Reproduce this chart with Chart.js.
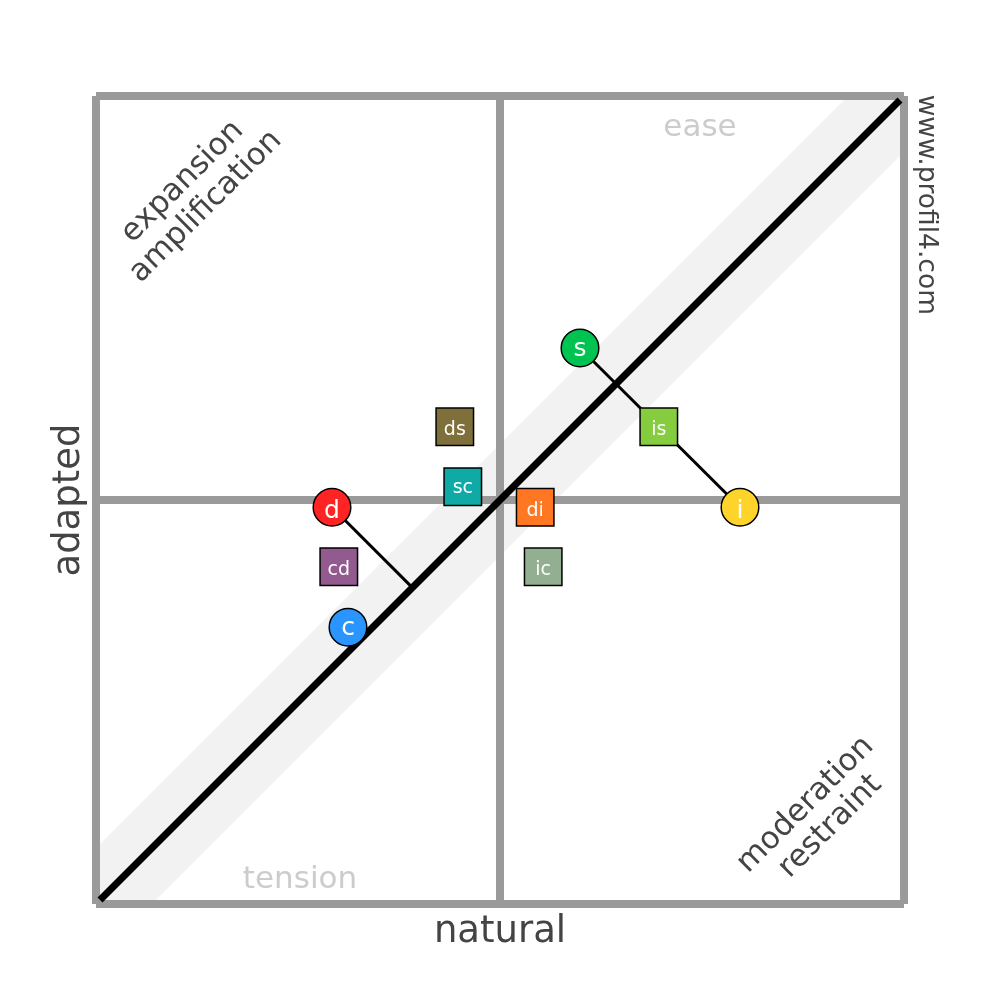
<!DOCTYPE html>
<html>
<head>
<meta charset="utf-8">
<title>profil4</title>
<script src="https://cdn.jsdelivr.net/npm/chart.js@4.4.1/dist/chart.umd.min.js"></script>
<style>
    html, body { margin: 0; padding: 0; background: #ffffff; }
    #wrap { width: 1000px; height: 1000px; }
</style>
</head>
<body>
<div id="wrap"><canvas id="profileChart"></canvas></div>
<script>
// circle markers (main profiles)
const circleLabels = ["d", "i", "s", "c"];
const circleX = [29, 80, 60, 31];
const circleY = [49.1, 49.1, 69, 34.1];
const circleColors = ["#ff2424", "#ffd42a", "#00c352", "#2b95ff"];

// square markers (combined profiles)
const squareLabels = ["ds", "sc", "di", "ic", "cd", "is"];
const squareX = [44.35, 45.35, 54.4, 55.4, 29.85, 69.85];
const squareY = [59.15, 51.65, 49.1, 41.65, 41.65, 59.15];
const squareColors = ["#7f6f3b", "#10aaa6", "#ff7722", "#92b091", "#935a8f", "#86cc3f"];

// connectors: d to the diagonal, s to i
const dLineX = [29, 39.05];
const dLineY = [49.1, 39.05];
const siLineX = [60, 80];
const siLineY = [69, 49.1];

// axis range, frame and middle cross
const axisMin = -0.5;
const axisMax = 100.5;
const midValue = 50;
const bandWidth = 7;

const toPoints = (xs, ys) => xs.map((x, i) => ({ x: x, y: ys[i] }));

const bandPoints = [
    { x: 0, y: 0 }, { x: 0, y: bandWidth }, { x: 100 - bandWidth, y: 100 },
    { x: 100, y: 100 }, { x: 100, y: 100 - bandWidth }, { x: bandWidth, y: 0 }
];

const textItems = [
    { text: "ease", x: 75, y: 96.6, size: 31, color: "#cccccc", angle: 0 },
    { text: "tension", x: 25, y: 3, size: 31, color: "#cccccc", angle: 0 },
    { text: "expansion", x: 10.3, y: 89.8, size: 31, color: "#444444", angle: -45 },
    { text: "amplification", x: 13.2, y: 86.7, size: 31, color: "#444444", angle: -45 },
    { text: "moderation", x: 87.9, y: 12.2, size: 31, color: "#444444", angle: -45 },
    { text: "restraint", x: 91.0, y: 9.5, size: 31, color: "#444444", angle: -45 },
    { text: "www.profil4.com", x: 103.25, y: 86.9, size: 26.5, color: "#444444", angle: 90 },
    { text: "natural", x: 50, y: -3.5, size: 37, color: "#444444", angle: 0 },
    { text: "adapted", x: -4, y: 50, size: 37, color: "#444444", angle: -90 }
];

const fontFamily = "'DejaVu Sans', sans-serif";

function drawCentered(ctx, text, cx, cy, size, color, angle) {
    ctx.save();
    ctx.translate(cx, cy);
    ctx.rotate(angle * Math.PI / 180);
    ctx.font = size + "px " + fontFamily;
    ctx.fillStyle = color;
    ctx.textAlign = "center";
    ctx.textBaseline = "alphabetic";
    const m = ctx.measureText(text);
    const base = (m.actualBoundingBoxAscent - m.actualBoundingBoxDescent) / 2;
    ctx.fillText(text, 0, base);
    ctx.restore();
}

const textPlugin = {
    id: "textPlugin",
    afterDraw(chart) {
        const ctx = chart.ctx;
        const xs = chart.scales.x;
        const ys = chart.scales.y;
        textItems.forEach(t => {
            drawCentered(ctx, t.text, xs.getPixelForValue(t.x), ys.getPixelForValue(t.y),
                t.size, t.color, t.angle);
        });
    },
    afterDatasetsDraw(chart) {
        const ctx = chart.ctx;
        [[0, circleLabels, 25], [1, squareLabels, 19]].forEach(([idx, labels, size]) => {
            chart.getDatasetMeta(idx).data.forEach((pt, j) => {
                drawCentered(ctx, labels[j], pt.x, pt.y + 0.8, size, "#ffffff", 0);
            });
        });
    }
};

const frameScale = {
    type: "linear",
    min: axisMin,
    max: axisMax,
    afterBuildTicks: scale => {
        scale.ticks = [{ value: axisMin }, { value: axisMax }];
    },
    ticks: { display: false },
    grid: { color: "#9a9a9a", lineWidth: 8, drawTicks: false },
    border: { display: false }
};

new Chart(document.getElementById("profileChart"), {
    type: "scatter",
    data: {
        datasets: [
            {
                label: "profiles",
                data: toPoints(circleX, circleY),
                pointStyle: "circle",
                pointRadius: 18.8,
                pointBackgroundColor: circleColors,
                pointBorderColor: "#000000",
                pointBorderWidth: 1.5,
                order: 0
            },
            {
                label: "combined",
                data: toPoints(squareX, squareY),
                pointStyle: "rect",
                pointRadius: 26.5,
                pointBackgroundColor: squareColors,
                pointBorderColor: "#000000",
                pointBorderWidth: 1.5,
                order: 1
            },
            {
                type: "line",
                data: toPoints(dLineX, dLineY),
                borderColor: "#000000",
                borderWidth: 3,
                pointRadius: 0,
                order: 2
            },
            {
                type: "line",
                data: toPoints(siLineX, siLineY),
                borderColor: "#000000",
                borderWidth: 3,
                pointRadius: 0,
                order: 2
            },
            {
                type: "line",
                data: [{ x: 0, y: 0 }, { x: 100, y: 100 }],
                borderColor: "#000000",
                borderWidth: 7,
                pointRadius: 0,
                order: 3
            },
            {
                type: "line",
                data: [{ x: midValue, y: axisMin }, { x: midValue, y: axisMax }],
                borderColor: "#9a9a9a",
                borderWidth: 8,
                pointRadius: 0,
                order: 4
            },
            {
                type: "line",
                data: [{ x: axisMin, y: midValue }, { x: axisMax, y: midValue }],
                borderColor: "#9a9a9a",
                borderWidth: 8,
                pointRadius: 0,
                order: 4
            },
            {
                type: "line",
                data: bandPoints,
                borderWidth: 0,
                backgroundColor: "#f2f2f2",
                fill: "shape",
                pointRadius: 0,
                order: 5
            }
        ]
    },
    options: {
        responsive: true,
        maintainAspectRatio: false,
        animation: false,
        events: [],
        layout: { padding: { left: 96, right: 96, top: 96, bottom: 96 } },
        plugins: {
            legend: { display: false },
            tooltip: { enabled: false }
        },
        scales: {
            x: frameScale,
            y: frameScale
        }
    },
    plugins: [textPlugin]
});
</script>
</body>
</html>
